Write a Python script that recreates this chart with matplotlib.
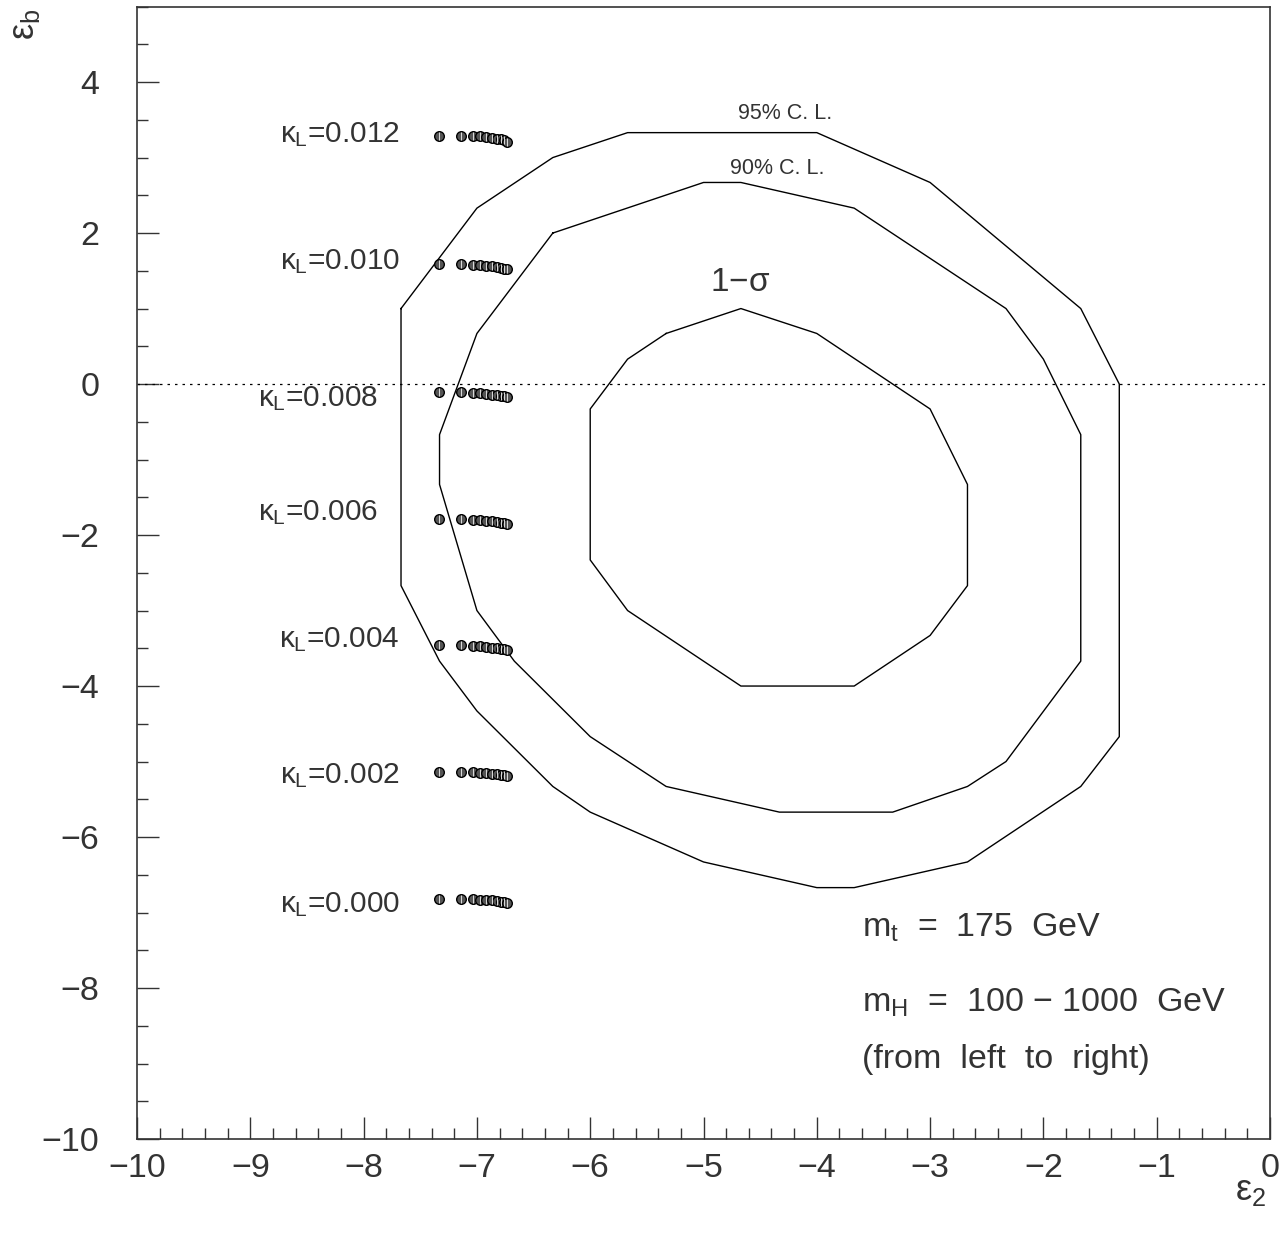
import matplotlib
matplotlib.use("Agg")
import matplotlib.pyplot as plt
from matplotlib.ticker import MultipleLocator
import numpy as np

plt.rcParams['font.family'] = ['Liberation Sans', 'DejaVu Sans']
plt.rcParams['mathtext.fontset'] = 'custom'
plt.rcParams['mathtext.rm'] = 'Liberation Sans'
plt.rcParams['mathtext.it'] = 'Liberation Sans'

TXT = '#333333'

# contour polygons (eps2, epsb)
cl95_x = [-7.67, -7.0, -6.33, -5.67, -4.0, -3.0, -1.67, -1.33, -1.33, -1.67, -2.67, -3.67, -4.0, -5.0, -6.0, -6.33, -7.0, -7.33, -7.67, -7.67]
cl95_y = [1.0, 2.33, 3.0, 3.33, 3.33, 2.67, 1.0, 0.0, -4.67, -5.33, -6.33, -6.67, -6.67, -6.33, -5.67, -5.33, -4.33, -3.67, -2.67, 1.0]
cl90_x = [-6.33, -7.0, -7.33, -7.33, -7.0, -6.67, -6.0, -5.33, -4.33, -3.33, -2.67, -2.33, -1.67, -1.67, -2.0, -2.33, -3.67, -4.67, -5.0, -6.33]
cl90_y = [2.0, 0.67, -0.67, -1.33, -3.0, -3.67, -4.67, -5.33, -5.67, -5.67, -5.33, -5.0, -3.67, -0.67, 0.33, 1.0, 2.33, 2.67, 2.67, 2.0]
sig1_x = [-5.33, -5.67, -6.0, -6.0, -5.67, -4.67, -3.67, -3.0, -2.67, -2.67, -3.0, -4.0, -4.67, -5.33]
sig1_y = [0.67, 0.33, -0.33, -2.33, -3.0, -4.0, -4.0, -3.33, -2.67, -1.33, -0.33, 0.67, 1.0, 0.67]

# model points: m_H = 100 ... 1000 GeV
pts_x = [-7.335, -7.14, -7.035, -6.97, -6.92, -6.865, -6.82, -6.785, -6.76, -6.735]
kappa_labels = ['0.012', '0.010', '0.008', '0.006', '0.004', '0.002', '0.000']
y_k012 = [3.29, 3.29, 3.28, 3.28, 3.27, 3.26, 3.25, 3.24, 3.23, 3.21]
y_k010 = [1.59, 1.59, 1.58, 1.58, 1.57, 1.56, 1.55, 1.54, 1.53, 1.52]
y_k008 = [-0.11, -0.11, -0.12, -0.12, -0.13, -0.14, -0.15, -0.16, -0.16, -0.17]
y_k006 = [-1.79, -1.79, -1.80, -1.80, -1.81, -1.82, -1.83, -1.84, -1.84, -1.85]
y_k004 = [-3.46, -3.46, -3.47, -3.47, -3.48, -3.49, -3.50, -3.51, -3.51, -3.52]
y_k002 = [-5.14, -5.14, -5.14, -5.15, -5.15, -5.16, -5.17, -5.18, -5.18, -5.19]
y_k000 = [-6.82, -6.82, -6.82, -6.83, -6.83, -6.84, -6.85, -6.86, -6.86, -6.87]
rows = [y_k012, y_k010, y_k008, y_k006, y_k004, y_k002, y_k000]
label_x = [-7.68, -7.68, -7.87, -7.87, -7.68, -7.68, -7.68]
label_y = [3.31, 1.62, -0.19, -1.70, -3.38, -5.19, -6.89]

fig = plt.figure(figsize=(12.88, 12.37), dpi=100)
ax = fig.add_axes([0.1064, 0.0792, 0.8796, 0.9155])

ax.plot(cl95_x, cl95_y, color='black', lw=1.0)
ax.plot(cl90_x, cl90_y, color='black', lw=1.0)
ax.plot(sig1_x, sig1_y, color='black', lw=1.0)
ax.axhline(0, color='black', lw=0.9, ls=(0, (2, 4)))

for yr in rows:
    ax.scatter(pts_x, yr, s=48, facecolors='#555555', edgecolors='black', linewidths=1.0, zorder=3)
    ax.scatter(pts_x, yr, s=30, marker='|', color='#dddddd', linewidths=0.7, zorder=4)

for lab, lx, ly in zip(kappa_labels, label_x, label_y):
    ax.text(lx, ly, r'$\kappa_{\mathrm{L}}$=' + lab, ha='right', va='center', fontsize=21.5, color=TXT)

ax.text(-4.28, 3.58, '95% C. L.', ha='center', va='center', fontsize=15.5, color=TXT)
ax.text(-4.35, 2.86, '90% C. L.', ha='center', va='center', fontsize=15.5, color=TXT)
ax.text(-4.68, 1.34, r'1$-\sigma$', ha='center', va='center', fontsize=24, color=TXT)

ax.text(-3.6, -7.2, r'm$_{\mathrm{t}}$  =  175  GeV', ha='left', va='center', fontsize=24.5, color=TXT)
ax.text(-3.6, -8.19, r'm$_{\mathrm{H}}$  =  100 $-$ 1000  GeV', ha='left', va='center', fontsize=24.5, color=TXT)
ax.text(-3.6, -8.95, '(from  left  to  right)', ha='left', va='center', fontsize=24.5, color=TXT)

ax.set_xlim(-10, 0)
ax.set_ylim(-10, 5)
ax.xaxis.set_major_locator(MultipleLocator(1))
ax.xaxis.set_minor_locator(MultipleLocator(0.2))
ax.yaxis.set_major_locator(MultipleLocator(2))
ax.yaxis.set_minor_locator(MultipleLocator(0.5))
ax.tick_params(which='both', direction='in', top=False, right=False, width=1.0, color='#333333')
ax.tick_params(which='major', length=16)
ax.tick_params(which='minor', length=8)
ax.tick_params(axis='x', which='major', pad=10, labelsize=24.5, labelcolor=TXT)
ax.tick_params(axis='y', which='major', pad=27, labelsize=24.5, labelcolor=TXT)
for sp in ax.spines.values():
    sp.set_linewidth(1.2)
    sp.set_color('#333333')

fig.text(1250 / 1288, 1 - 1190 / 1237, r'$\epsilon_2$', ha='center', va='center', fontsize=26, color=TXT)
fig.text(25 / 1288, 1 - 24 / 1237, r'$\epsilon_{\mathrm{b}}$', ha='center', va='center', fontsize=26, rotation=90, color=TXT)

fig.savefig('out.png', dpi=100)
